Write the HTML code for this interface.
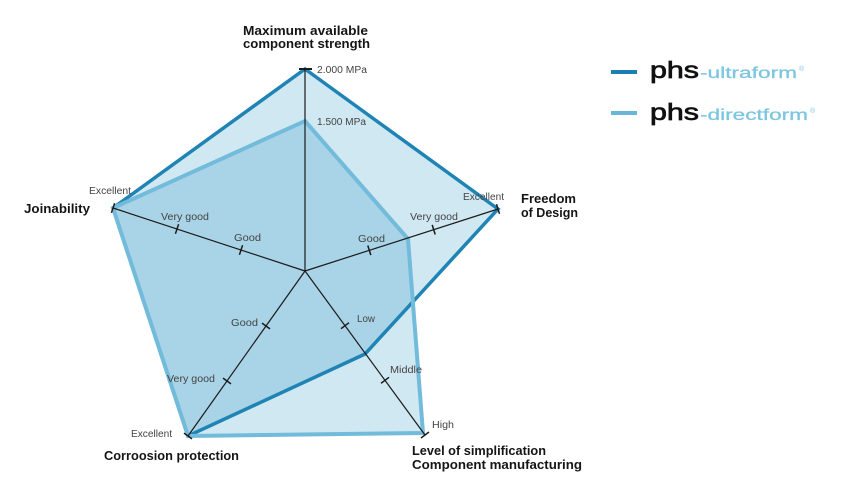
<!DOCTYPE html>
<html>
<head>
<meta charset="utf-8">
<style>
  html,body{margin:0;padding:0;background:#fff;}
  svg{display:block;}
  .t{font-family:"Liberation Sans",sans-serif;font-weight:700;font-size:13px;fill:#151515;}
  .s{font-family:"Liberation Sans",sans-serif;font-size:10px;fill:#444;}
</style>
</head>
<body>
<svg width="854" height="500" viewBox="0 0 854 500" xmlns="http://www.w3.org/2000/svg">
  <defs>
    <clipPath id="ultra">
      <polygon points="305,69 498,209 365,354 188,436 113,208"/>
    </clipPath>
  </defs>
  <!-- fills -->
  <polygon points="305,69 498,209 365,354 188,436 113,208" fill="#d0e8f2"/>
  <polygon points="305,121 408,239 423,433 188,436 113,208" fill="#d0e8f2"/>
  <polygon points="305,121 408,239 423,433 188,436 113,208" fill="#a9d3e6" clip-path="url(#ultra)"/>
  <!-- strokes -->
  <polygon points="305,69 498,209 365,354 188,436 113,208" fill="none" stroke="#1f84b4" stroke-width="3.5" stroke-linejoin="miter"/>
  <polygon points="305,121 408,239 423,433 188,436 113,208" fill="none" stroke="#72bbdb" stroke-width="4" stroke-linejoin="miter"/>

  <!-- axes -->
  <g stroke="#1b1b1b" stroke-width="1.2" fill="none">
    <line x1="305" y1="271" x2="305" y2="69"/>
    <line x1="305" y1="271" x2="498" y2="209"/>
    <line x1="305" y1="271" x2="425" y2="435"/>
    <line x1="305" y1="271" x2="188" y2="436"/>
    <line x1="305" y1="271" x2="113" y2="208"/>
  </g>
  <!-- ticks -->
  <g stroke="#1b1b1b" stroke-width="1.5">
    <line x1="299" y1="69" x2="312" y2="69" stroke-width="2"/>
    <line x1="367.8" y1="245.5" x2="370.8" y2="255.1"/>
    <line x1="432.2" y1="224.9" x2="435.2" y2="234.5"/>
    <line x1="496.5" y1="204.2" x2="499.5" y2="213.8"/>
    <line x1="341" y1="328.7" x2="349" y2="322.7"/>
    <line x1="381" y1="383.3" x2="389" y2="377.3"/>
    <line x1="421" y1="438" x2="429" y2="432"/>
    <line x1="262" y1="323.1" x2="270" y2="328.9"/>
    <line x1="223" y1="378.1" x2="231" y2="383.9"/>
    <line x1="184" y1="433.1" x2="192" y2="438.9"/>
    <line x1="242.6" y1="245.2" x2="239.4" y2="254.8"/>
    <line x1="178.6" y1="224.2" x2="175.4" y2="233.8"/>
    <line x1="114.6" y1="203.2" x2="111.4" y2="212.8"/>
  </g>

  <!-- titles -->
  <text class="t" x="243" y="35" textLength="125" lengthAdjust="spacingAndGlyphs">Maximum available</text>
  <text class="t" x="243" y="48" textLength="127" lengthAdjust="spacingAndGlyphs">component strength</text>
  <text class="t" x="24" y="213" textLength="66" lengthAdjust="spacingAndGlyphs">Joinability</text>
  <text class="t" x="521" y="203" textLength="55" lengthAdjust="spacingAndGlyphs">Freedom</text>
  <text class="t" x="521" y="217" textLength="57" lengthAdjust="spacingAndGlyphs">of Design</text>
  <text class="t" x="412" y="455" textLength="134" lengthAdjust="spacingAndGlyphs">Level of simplification</text>
  <text class="t" x="412" y="469" textLength="170" lengthAdjust="spacingAndGlyphs">Component manufacturing</text>
  <text class="t" x="104" y="460" textLength="135" lengthAdjust="spacingAndGlyphs">Corroosion protection</text>

  <!-- small labels -->
  <text class="s" x="317" y="73" textLength="50" lengthAdjust="spacingAndGlyphs">2.000 MPa</text>
  <text class="s" x="317" y="125" textLength="49" lengthAdjust="spacingAndGlyphs">1.500 MPa</text>
  <text class="s" x="89" y="194" textLength="42" lengthAdjust="spacingAndGlyphs">Excellent</text>
  <text class="s" x="161" y="220" textLength="48" lengthAdjust="spacingAndGlyphs">Very good</text>
  <text class="s" x="234" y="241" textLength="27" lengthAdjust="spacingAndGlyphs">Good</text>
  <text class="s" x="463" y="200" textLength="41" lengthAdjust="spacingAndGlyphs">Excellent</text>
  <text class="s" x="410" y="220" textLength="48" lengthAdjust="spacingAndGlyphs">Very good</text>
  <text class="s" x="358" y="242" textLength="27" lengthAdjust="spacingAndGlyphs">Good</text>
  <text class="s" x="357" y="322" textLength="18" lengthAdjust="spacingAndGlyphs">Low</text>
  <text class="s" x="390" y="373" textLength="32" lengthAdjust="spacingAndGlyphs">Middle</text>
  <text class="s" x="432" y="428" textLength="22" lengthAdjust="spacingAndGlyphs">High</text>
  <text class="s" x="231" y="326" textLength="27" lengthAdjust="spacingAndGlyphs">Good</text>
  <text class="s" x="167" y="382" textLength="48" lengthAdjust="spacingAndGlyphs">Very good</text>
  <text class="s" x="131" y="437" textLength="41" lengthAdjust="spacingAndGlyphs">Excellent</text>

  <!-- legend -->
  <line x1="611" y1="72" x2="637" y2="72" stroke="#1a7fb0" stroke-width="4"/>
  <line x1="611" y1="113" x2="637" y2="113" stroke="#68b6d8" stroke-width="4"/>
  <text x="650" y="78" font-family="Liberation Sans, sans-serif" font-size="23" fill="#111" stroke="#111" stroke-width="0.7" textLength="49" lengthAdjust="spacingAndGlyphs">phs</text>
  <text x="700" y="78" font-family="Liberation Sans, sans-serif" font-size="16" fill="#7cc6e0" stroke="#7cc6e0" stroke-width="0.3" textLength="97" lengthAdjust="spacingAndGlyphs">-ultraform</text>
  <text x="799" y="71" font-family="Liberation Sans, sans-serif" font-size="7" fill="#7cc6e0">®</text>
  <text x="650" y="120" font-family="Liberation Sans, sans-serif" font-size="23" fill="#111" stroke="#111" stroke-width="0.7" textLength="49" lengthAdjust="spacingAndGlyphs">phs</text>
  <text x="700" y="120" font-family="Liberation Sans, sans-serif" font-size="16" fill="#7cc6e0" stroke="#7cc6e0" stroke-width="0.3" textLength="108" lengthAdjust="spacingAndGlyphs">-directform</text>
  <text x="810" y="113" font-family="Liberation Sans, sans-serif" font-size="7" fill="#7cc6e0">®</text>
</svg>
</body>
</html>
